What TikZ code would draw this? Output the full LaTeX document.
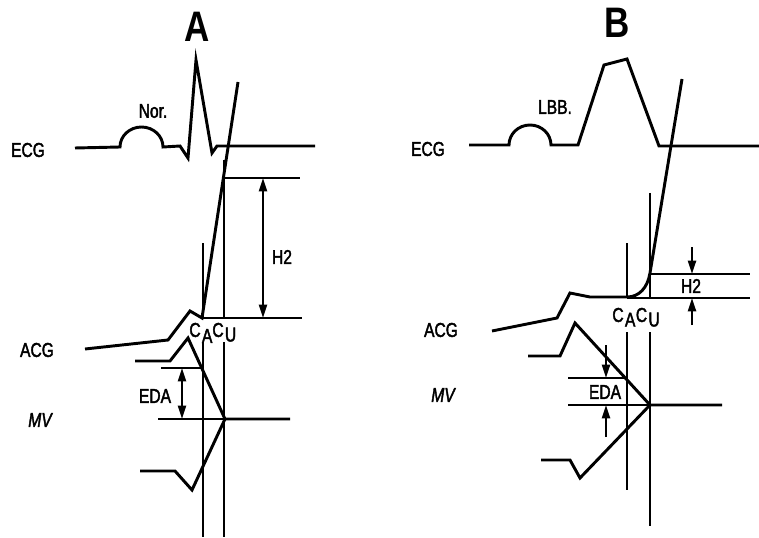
\documentclass[tikz,border=0pt]{standalone}
\usepackage{fontspec}
\setmainfont{Liberation Sans}[FakeStretch=0.82]
\newfontfamily\lblfont{Liberation Sans}[FakeStretch=0.78, FakeBold=2]
\usetikzlibrary{arrows.meta,positioning,calc}

\begin{document}
\begin{tikzpicture}[
    x=0.75pt, y=-0.75pt,
    trace/.style={line width=2.2pt, line join=miter},
    guide/.style={line width=1pt},
    lbl/.style={font=\lblfont\fontsize{15}{17}\selectfont, inner sep=0pt},
    slant/.style={font=\lblfont\fontsize{15}{17}\selectfont\itshape, inner sep=0pt},
    panel/.style={font=\fontsize{32}{34}\selectfont\bfseries, inner sep=0pt},
    dim/.style={line width=1.7pt, >={Triangle[length=10pt,width=6pt]}},
  ]
  \useasboundingbox (0,0) rectangle (759,538);

  % ---- panel A: normal conduction
  \node[panel] (ttlA) at (197,27) {A};
  \node[lbl] (ecgA) at (28,150) {ECG};
  \node[lbl] (norA) at (153,111) {Nor.};
  \node[lbl] (acgA) at (37,350) {ACG};
  \node[slant] (mvA) at (40,420) {MV};
  \node[lbl] (h2A) at (282,257) {H2};
  \node[lbl] (edaA) at (155,396) {EDA};
  \node[lbl] (c1A) at (195,330) {C};
  \node[lbl, right=0.6pt of c1A, yshift=-4.5pt] (a1A) {A};
  \node[lbl] (c2A) at (218,330) {C};
  \node[lbl, right=0.6pt of c2A, yshift=-3.5pt] (u2A) {U};

  \draw[trace] (75,148) -- (120,147) arc[start angle=180, end angle=360, x radius=21.5, y radius=20]
    -- (180,146) -- (188,158) -- (196,60) -- (212,153) -- (217,146) -- (315,146);
  \draw[trace] (85,349) -- (168,340) -- (190,311) -- (202,318) -- (238,82);
  \draw[trace] (135,361) -- (170,361) -- (188,338) -- (225,419) -- (290,419);
  \draw[trace] (140,471) -- (175,471) -- (192,490) -- (225,419);

  \draw[guide] (203,243) -- (203,318) (203,342) -- (203,537);
  \draw[guide] (224,160) -- (224,318) (224,342) -- (224,537);
  \draw[guide] (224,178) -- (300,178);
  \draw[guide] (203,318) -- (302,318);
  \draw[guide] (158,419) -- (225,419);
  \draw[guide] (161,368) -- (203,368);

  \coordinate (h2topA) at (263,178);
  \coordinate (h2botA) at (263,318);
  \coordinate (edatopA) at (182,368);
  \coordinate (edabotA) at (182,419);
  \draw[dim, <->] (h2topA) -- (h2botA);
  \draw[dim, <->] (edatopA) -- (edabotA);

  % ---- panel B: left bundle branch block
  \node[panel] (ttlB) at (617,23) {B};
  \node[lbl] (ecgB) at (428,149) {ECG};
  \node[lbl] (lbbB) at (555,107) {LBB.};
  \node[lbl] (acgB) at (441,330) {ACG};
  \node[slant] (mvB) at (443,395) {MV};
  \node[lbl] (h2B) at (691,286) {H2};
  \node[lbl] (edaB) at (605,392) {EDA};
  \node[lbl] (c1B) at (618,315) {C};
  \node[lbl, right=0.6pt of c1B, yshift=-3.5pt] (a1B) {A};
  \node[lbl] (c2B) at (641.5,315) {C};
  \node[lbl, right=0.6pt of c2B, yshift=-3.5pt] (u2B) {U};

  \draw[trace] (469,145) -- (509,145) arc[start angle=180, end angle=360, x radius=21, y radius=20]
    -- (578,145) -- (604,65) -- (627,59) -- (659,146) -- (759,146);
  \draw[trace] (492,331) -- (557,318) -- (570,293) -- (590,297) -- (627,297)
    .. controls (639,297) and (647.5,288) .. (650,273) -- (682,79);
  \draw[trace] (528,356) -- (560,356) -- (575,323) -- (650,405) -- (722,405);
  \draw[trace] (541,460) -- (570,460) -- (580,478) -- (650,405);

  \draw[guide] (627,243) -- (627,298) (627,332) -- (627,490);
  \draw[guide] (650,193) -- (650,298) (650,332) -- (650,526);
  \draw[guide] (650,274) -- (750,274);
  \draw[guide] (627,298) -- (750,298);
  \draw[guide] (568,405) -- (650,405);
  \draw[guide] (568,378) -- (627,378);

  \coordinate (h2inB) at (692,247);
  \coordinate (h2topB) at (692,274);
  \coordinate (h2outB) at (692,325);
  \coordinate (h2botB) at (692,298);
  \coordinate (edainB) at (606,345);
  \coordinate (edatopB) at (606,378);
  \coordinate (edaoutB) at (606,437);
  \coordinate (edabotB) at (606,405);
  \draw[dim, ->] (h2inB) -- (h2topB);
  \draw[dim, ->] (h2outB) -- (h2botB);
  \draw[dim, ->] (edainB) -- (edatopB);
  \draw[dim, ->] (edaoutB) -- (edabotB);
\end{tikzpicture}
\end{document}
